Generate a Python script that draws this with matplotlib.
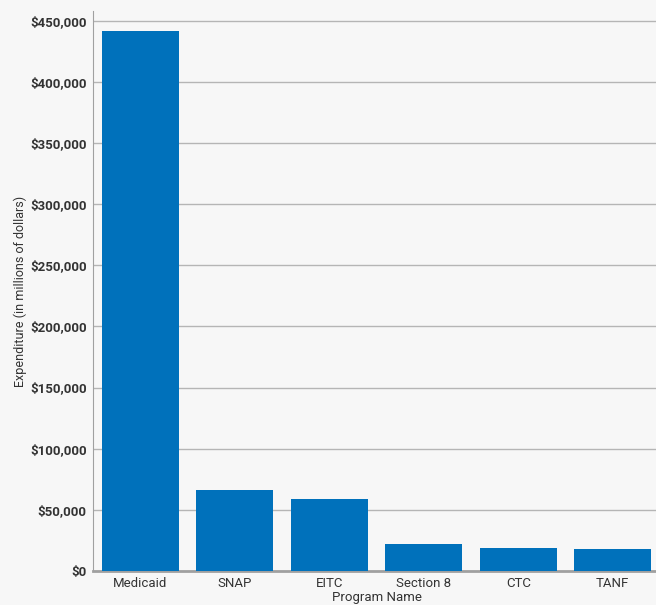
import matplotlib.pyplot as plt
from matplotlib.ticker import FuncFormatter

programs = ["Medicaid", "SNAP", "EITC", "Section 8", "CTC", "TANF"]
expenditure = [442000, 66400, 59000, 22100, 18900, 18000]
yticks = [0, 50000, 100000, 150000, 200000, 250000, 300000, 350000, 400000, 450000]

W, H = 656, 605
fig = plt.figure(figsize=(W/100, H/100), dpi=100, facecolor="#f7f7f7")
left, right, bottom, top = 93, 660, 571, 11
ax = fig.add_axes([left/W, 1-bottom/H, (right-left)/W, (bottom-top)/H])
ax.set_facecolor("#f7f7f7")

x = range(len(programs))
ax.bar(x, expenditure, width=0.815, color="#0071bb", zorder=3)
ax.set_xlim(-0.5, len(programs)-0.5)
ax.set_ylim(0, 458000)
ax.set_yticks(yticks)
ax.yaxis.set_major_formatter(FuncFormatter(lambda v, p: f"${v:,.0f}"))
ax.set_xticks(list(x))
ax.set_xticklabels(programs, fontsize=9.5, color="#333333", family="Roboto")
for lab in ax.get_yticklabels():
    lab.set_fontweight("bold")
    lab.set_fontsize(9.5)
    lab.set_color("#333333")
    lab.set_family("Roboto")
ax.grid(axis="y", color="#b5b5b5", linewidth=1, zorder=0)
for s in ["top", "right"]:
    ax.spines[s].set_visible(False)
ax.spines["left"].set_color("#a0a0a0")
ax.spines["bottom"].set_color("#a0a0a0")
ax.spines["bottom"].set_linewidth(2)
ax.tick_params(axis="y", length=0, pad=4.5)
ax.tick_params(axis="x", length=0, pad=4)
ax.set_ylabel("Expenditure (in millions of dollars)", fontsize=9, color="#333333", family="Roboto", labelpad=2)
ax.set_xlabel("Program Name", fontsize=9.5, color="#333333", family="Roboto", labelpad=1)
fig.savefig("out.png", dpi=100, facecolor=fig.get_facecolor())
